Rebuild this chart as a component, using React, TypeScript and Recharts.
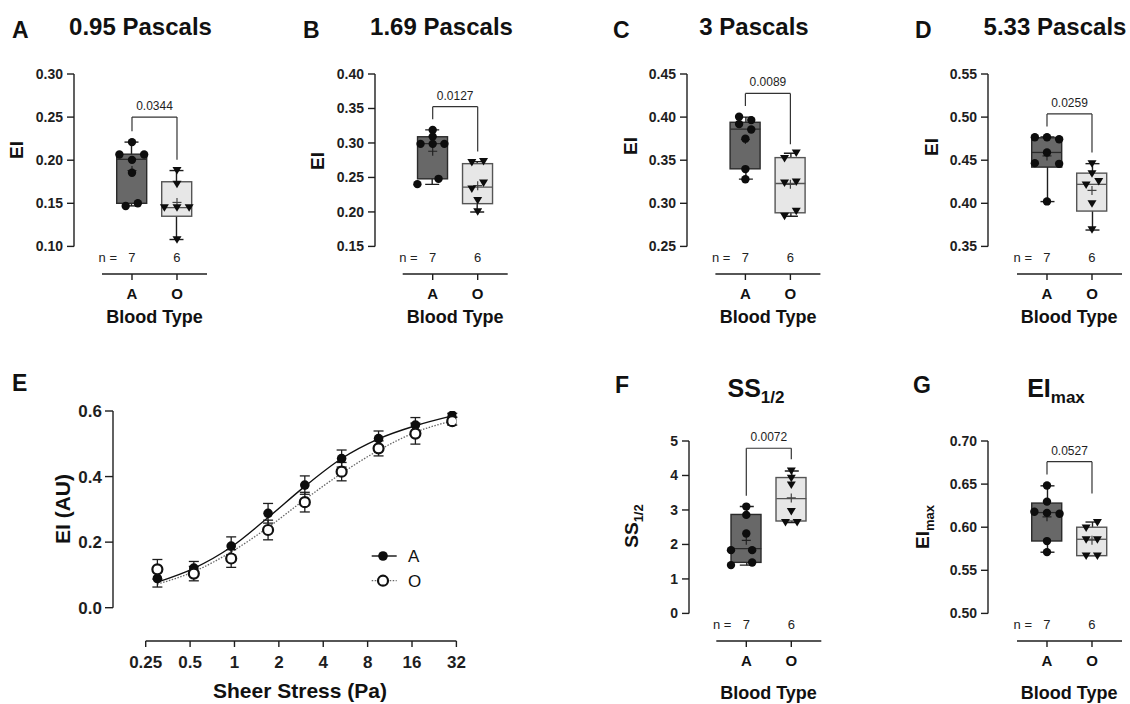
import React from "react";
import {
  ComposedChart,
  Bar,
  Scatter,
  Line,
  XAxis,
  YAxis,
  ReferenceLine,
  ErrorBar,
  Legend,
} from "recharts";

const FONT = '"Liberation Sans", Arial, Helvetica, sans-serif';
const INK = "#1e1e1e";

const groups = ["A", "O"];
const groupN = [7, 6];

// stats are [min, q1, median, q3, max, mean]

// A – 0.95 Pa
const aTicks = [0.1, 0.15, 0.2, 0.25, 0.3];
const aStatsA = [0.147, 0.15, 0.201, 0.207, 0.221, 0.188];
const aStatsO = [0.108, 0.135, 0.145, 0.175, 0.188, 0.151];
const aPtsA = [0.221, 0.2066, 0.2066, 0.2004, 0.1854, 0.1468, 0.15];
const aJitA = [1, 0.72, 1.27, 1, 1, 0.86, 1.13];
const aPtsO = [0.188, 0.1722, 0.1449, 0.1449, 0.1449, 0.1078];
const aJitO = [2, 2, 1.72, 2, 2.27, 2];
const aBracket = [0.25, 0.2336, 0.2005];

// B – 1.69 Pa
const bTicks = [0.15, 0.2, 0.25, 0.3, 0.35, 0.4];
const bStatsA = [0.24, 0.248, 0.299, 0.309, 0.319, 0.288];
const bStatsO = [0.2, 0.212, 0.236, 0.27, 0.273, 0.238];
const bPtsA = [0.3189, 0.3092, 0.2987, 0.2987, 0.2987, 0.248, 0.2403];
const bJitA = [1, 1, 0.73, 1, 1.26, 1.13, 0.66];
const bPtsO = [0.2716, 0.273, 0.2331, 0.2418, 0.2166, 0.2002];
const bJitO = [1.87, 2.13, 1.87, 2.13, 2, 2];
const bBracket = [0.3527, 0.3344, 0.2875];

// C – 3 Pa
const cTicks = [0.25, 0.3, 0.35, 0.4, 0.45];
const cStatsA = [0.328, 0.34, 0.386, 0.394, 0.4, 0.374];
const cStatsO = [0.285, 0.289, 0.323, 0.353, 0.358, 0.322];
const cPtsA = [0.4004, 0.3965, 0.3919, 0.3857, 0.375, 0.3397, 0.3279];
const cJitA = [0.86, 1.13, 0.86, 1.13, 1, 1, 1];
const cPtsO = [0.352, 0.3585, 0.3236, 0.3248, 0.2849, 0.2907];
const cJitO = [1.87, 2.13, 1.87, 2.13, 1.87, 2.13];
const cBracket = [0.4275, 0.4128, 0.3686];

// D – 5.33 Pa
const dTicks = [0.35, 0.4, 0.45, 0.5, 0.55];
const dStatsA = [0.402, 0.442, 0.459, 0.476, 0.477, 0.455];
const dStatsO = [0.369, 0.391, 0.422, 0.435, 0.446, 0.415];
const dPtsA = [0.4767, 0.4767, 0.4744, 0.4589, 0.4466, 0.4458, 0.4022];
const dJitA = [0.73, 1, 1.27, 1, 0.73, 1.27, 1];
const dPtsO = [0.4458, 0.4342, 0.4211, 0.4253, 0.3995, 0.3694];
const dJitO = [2, 2, 1.87, 2.15, 2, 2];
const dBracket = [0.5037, 0.489, 0.459];

// F – SS1/2
const fTicks = [0, 1, 2, 3, 4, 5];
const fStatsA = [1.4, 1.48, 1.88, 2.87, 3.1, 2.12];
const fStatsO = [2.635, 2.68, 3.33, 3.94, 4.13, 3.35];
const fPtsA = [3.098, 2.857, 2.316, 1.835, 1.835, 1.477, 1.401];
const fJitA = [1, 1, 1, 0.66, 1.13, 1.13, 0.66];
const fPtsO = [4.13, 3.92, 3.726, 2.953, 2.635, 2.635];
const fJitO = [2, 2, 2, 2, 1.87, 2.13];
const fBracket = [4.79, 3.41, 4.47];

// G – EImax
const gTicks = [0.5, 0.55, 0.6, 0.65, 0.7];
const gStatsA = [0.571, 0.584, 0.617, 0.628, 0.648, 0.612];
const gStatsO = [0.567, 0.567, 0.586, 0.6, 0.606, 0.585];
const gPtsA = [0.6484, 0.6297, 0.618, 0.6157, 0.6166, 0.5839, 0.5711];
const gJitA = [1, 1, 0.72, 1.28, 1, 1, 1];
const gPtsO = [0.599, 0.6056, 0.5854, 0.5854, 0.5667, 0.5667];
const gJitO = [1.87, 2.12, 1.87, 2.12, 1.87, 2.12];
const gBracket = [0.676, 0.6612, 0.639];

// E – deformability curve
const shear = [0.3, 0.53, 0.95, 1.69, 3, 5.33, 9.49, 16.87, 30];
const stressTicks = [0.25, 0.5, 1, 2, 4, 8, 16, 32];
const eiA = [0.089, 0.121, 0.188, 0.288, 0.374, 0.455, 0.516, 0.557, 0.587];
const semA = [0.026, 0.02, 0.028, 0.03, 0.028, 0.026, 0.023, 0.023, 0.006];
const eiO = [0.117, 0.104, 0.15, 0.237, 0.322, 0.415, 0.486, 0.531, 0.569];
const semO = [0.03, 0.022, 0.027, 0.03, 0.03, 0.028, 0.023, 0.032, 0.012];
const fitA = [0.078, 0.12, 0.185, 0.275, 0.37, 0.455, 0.515, 0.555, 0.585];
const fitO = [0.072, 0.11, 0.17, 0.245, 0.33, 0.41, 0.48, 0.535, 0.57];

const boxPanels = [
  { letter: "A", title: "0.95 Pascals", yLabel: "EI", ticks: aTicks, sA: aStatsA, sO: aStatsO, pA: aPtsA, jA: aJitA, pO: aPtsO, jO: aJitO, br: aBracket, p: "0.0344", dec: 2,
    axisX: 74, tickX: 132, top: 74, letterX: 12, letterY: 30, titleX: 140.5, titleY: 27, labX: 16, labY: 150, btY: 316.5 },
  { letter: "B", title: "1.69 Pascals", yLabel: "EI", ticks: bTicks, sA: bStatsA, sO: bStatsO, pA: bPtsA, jA: bJitA, pO: bPtsO, jO: bJitO, br: bBracket, p: "0.0127", dec: 2,
    axisX: 375, tickX: 432.7, top: 74, letterX: 303, letterY: 30, titleX: 441.5, titleY: 27, labX: 316.7, labY: 161, btY: 316.5 },
  { letter: "C", title: "3 Pascals", yLabel: "EI", ticks: cTicks, sA: cStatsA, sO: cStatsO, pA: cPtsA, jA: cJitA, pO: cPtsO, jO: cJitO, br: cBracket, p: "0.0089", dec: 2,
    axisX: 687.3, tickX: 745.7, top: 74, letterX: 613, letterY: 30, titleX: 754, titleY: 27, labX: 630, labY: 146, btY: 316.5 },
  { letter: "D", title: "5.33 Pascals", yLabel: "EI", ticks: dTicks, sA: dStatsA, sO: dStatsO, pA: dPtsA, jA: dJitA, pO: dPtsO, jO: dJitO, br: dBracket, p: "0.0259", dec: 2,
    axisX: 987.7, tickX: 1046.7, top: 74, letterX: 915, letterY: 30, titleX: 1055, titleY: 27, labX: 931, labY: 146.7, btY: 316.5 },
  { letter: "F", title: "SS", sub: "1/2", yLabel: "SS", ticks: fTicks, sA: fStatsA, sO: fStatsO, pA: fPtsA, jA: fJitA, pO: fPtsO, jO: fJitO, br: fBracket, p: "0.0072", dec: 0,
    axisX: 688.7, tickX: 746, top: 440.5, letterX: 615, letterY: 385, titleX: 756, titleY: 387.5, labX: 631, labY: 525.7, btY: 692.5 },
  { letter: "G", title: "EI", sub: "max", yLabel: "EI", ticks: gTicks, sA: gStatsA, sO: gStatsO, pA: gPtsA, jA: gJitA, pO: gPtsO, jO: gJitO, br: gBracket, p: "0.0527", dec: 2,
    axisX: 987.7, tickX: 1046.7, top: 440.5, letterX: 913, letterY: 385, titleX: 1056, titleY: 387.5, labX: 922, labY: 526.5, btY: 692.5 },
];

const UNIT = 45; // px between group centres
const X_HI = 2.667;
const YW = 60;
const MT = 10;
const PLOT_H = 200;
const XH = 36;
const BOX_FILL = ["#686868", "#e7e7e7"];
const BOX_STROKE = ["#2a2a2a", "#555555"];

const toRow = (x: number, s: number[]) => ({ x, min: s[0], q1: s[1], med: s[2], q3: s[3], max: s[4], mean: s[5] });

const spanY = (p: any) => {
  const a = p.y;
  const b = p.y + p.height;
  return [Math.min(a, b), Math.max(a, b)];
};

const Whisker = (p: any) => {
  const cx = p.x + p.width / 2;
  const [y1, y2] = spanY(p);
  return (
    <g stroke={INK} strokeWidth={1.4}>
      <line x1={cx} x2={cx} y1={y1} y2={y2} />
      <line x1={cx - 7} x2={cx + 7} y1={y1} y2={y1} />
      <line x1={cx - 7} x2={cx + 7} y1={y2} y2={y2} />
    </g>
  );
};

const BoxShape = (p: any) => {
  const cx = p.x + p.width / 2;
  const [y1, y2] = spanY(p);
  const i = p.index ?? 0;
  return <rect x={cx - 15} y={y1} width={30} height={y2 - y1} fill={BOX_FILL[i]} stroke={BOX_STROKE[i]} strokeWidth={1.4} />;
};

const MedianShape = (p: any) => (
  <line x1={p.cx - 15} x2={p.cx + 15} y1={p.cy} y2={p.cy} stroke={p.index === 0 ? "#2a2a2a" : "#555"} strokeWidth={1.3} />
);

const MeanShape = (p: any) => (
  <g stroke={p.index === 0 ? "#222" : "#444"} strokeWidth={1.2}>
    <line x1={p.cx - 4.5} x2={p.cx + 4.5} y1={p.cy} y2={p.cy} />
    <line x1={p.cx} x2={p.cx} y1={p.cy - 4.5} y2={p.cy + 4.5} />
  </g>
);

const DotShape = (p: any) => <circle cx={p.cx} cy={p.cy} r={4.2} fill="#0d0d0d" />;

const TriShape = (p: any) => (
  <path d={`M${p.cx - 4.5},${p.cy - 3.5} L${p.cx + 4.5},${p.cy - 3.5} L${p.cx},${p.cy + 4} Z`} fill="#0d0d0d" />
);

const GroupTick = (props: any) => {
  const { x, y, payload } = props;
  const i = Math.round(payload.value) - 1;
  const axisY = y - 14;
  return (
    <g fontFamily={FONT}>
      <text x={x} y={y} dy="0.71em" textAnchor="middle" fontSize={15} fontWeight={700} fill="#111">
        {groups[i]}
      </text>
      <text x={x} y={axisY - 11.5} textAnchor="middle" fontSize={13} fill="#222">
        {groupN[i]}
      </text>
      {i === 0 && (
        <text x={x - 15} y={axisY - 11.5} textAnchor="end" fontSize={13} fill="#222">
          n =
        </text>
      )}
    </g>
  );
};

function BoxPanel({ d }: { d: any }) {
  const yMin = d.ticks[0];
  const yMax = d.ticks[d.ticks.length - 1];
  const yLo = yMin - 0.16 * (yMax - yMin);
  const xLo = 1 - (d.tickX - d.axisX) / UNIT;
  const plotW = (X_HI - xLo) * UNIT;
  const width = YW + plotW + 8;
  const height = MT + PLOT_H + XH;
  const rows = [toRow(1, d.sA), toRow(2, d.sO)];
  const ptsA = d.pA.map((y: number, i: number) => ({ x: d.jA[i], y }));
  const ptsO = d.pO.map((y: number, i: number) => ({ x: d.jO[i], y }));
  const axisStroke = { stroke: INK, strokeWidth: 1.4 };
  const bracketStroke = "#333";
  return (
    <div style={{ position: "absolute", left: d.axisX - YW, top: d.top - MT }}>
      <ComposedChart width={width} height={height} data={rows} margin={{ top: MT, right: 8, bottom: 0, left: 0 }}>
        <XAxis
          xAxisId={0}
          type="number"
          dataKey="x"
          domain={[xLo, X_HI]}
          allowDataOverflow
          ticks={[1, 2]}
          interval={0}
          axisLine={false}
          tickLine={axisStroke}
          tickSize={6}
          tickMargin={8}
          height={XH}
          tick={<GroupTick />}
        />
        <XAxis xAxisId="w" type="number" dataKey="x" domain={[xLo, X_HI]} allowDataOverflow ticks={[1, 2]} hide />
        <YAxis
          type="number"
          domain={[yLo, yMax]}
          allowDataOverflow
          ticks={d.ticks}
          interval={0}
          width={YW}
          axisLine={false}
          tickLine={axisStroke}
          tickSize={7}
          tickMargin={4}
          tick={{ fontSize: 14, fontWeight: 700, fill: INK, fontFamily: FONT }}
          tickFormatter={(v: number) => v.toFixed(d.dec)}
        />
        <ReferenceLine segment={[{ x: xLo, y: yMin }, { x: xLo, y: yMax }]} ifOverflow="visible" {...axisStroke} />
        <ReferenceLine segment={[{ x: 1 / 3, y: yLo }, { x: X_HI, y: yLo }]} ifOverflow="visible" {...axisStroke} />

        <ReferenceLine
          segment={[{ x: 1, y: d.br[0] }, { x: 2, y: d.br[0] }]}
          ifOverflow="visible"
          stroke={bracketStroke}
          strokeWidth={1.2}
          label={{ value: d.p, position: "top", offset: 7, fontSize: 12, fill: INK, fontFamily: FONT }}
        />
        <ReferenceLine segment={[{ x: 1, y: d.br[1] }, { x: 1, y: d.br[0] }]} ifOverflow="visible" stroke={bracketStroke} strokeWidth={1.2} />
        <ReferenceLine segment={[{ x: 2, y: d.br[2] }, { x: 2, y: d.br[0] }]} ifOverflow="visible" stroke={bracketStroke} strokeWidth={1.2} />

        <Bar xAxisId="w" dataKey={(r: any) => [r.min, r.max]} barSize={14} shape={Whisker} isAnimationActive={false} />
        <Bar dataKey={(r: any) => [r.q1, r.q3]} barSize={30} shape={BoxShape} isAnimationActive={false} />
        <Scatter data={rows} dataKey="med" shape={MedianShape} isAnimationActive={false} />
        <Scatter data={rows} dataKey="mean" shape={MeanShape} isAnimationActive={false} />
        <Scatter data={ptsA} dataKey="y" shape={DotShape} isAnimationActive={false} />
        <Scatter data={ptsO} dataKey="y" shape={TriShape} isAnimationActive={false} />
      </ComposedChart>
    </div>
  );
}

// panel E geometry
const E_AXIS_X = 113.3;
const E_TOP = 411;
const E_RIGHT = 456.7;
const E_PLOT_H = 230;
const E_YW = 60;
const E_XH = 40;
const E_LEFT = E_AXIS_X - E_YW;
const E_Y_LO = -0.1016;

const FilledDot = (p: any) => <circle cx={p.cx} cy={p.cy} r={4.8} fill="#0d0d0d" />;
const OpenDot = (p: any) => <circle cx={p.cx} cy={p.cy} r={5} fill="#fff" stroke="#111" strokeWidth={2.2} />;

const legendSeries = ["A", "O"];

const StressLegend = () => (
  <svg width={70} height={50} style={{ overflow: "visible" }}>
    {legendSeries.map((name, i) => {
      const y = 12 + i * 24.7;
      return (
        <g key={name}>
          <line
            x1={5.7}
            x2={30.7}
            y1={y}
            y2={y}
            stroke={i === 0 ? "#111" : "#666"}
            strokeWidth={i === 0 ? 1.4 : 1.3}
            strokeDasharray={i === 0 ? undefined : "1.5 1.5"}
          />
          {i === 0 ? (
            <circle cx={17} cy={y} r={4.8} fill="#0d0d0d" />
          ) : (
            <circle cx={17} cy={y} r={5} fill="#fff" stroke="#111" strokeWidth={2.2} />
          )}
          <text x={42} y={y} dy="0.355em" fontSize={17} fill="#111" fontFamily={FONT}>
            {name}
          </text>
        </g>
      );
    })}
  </svg>
);

function StressPanel() {
  const ptsA = shear.map((x, i) => ({ x, y: eiA[i], err: semA[i] }));
  const ptsO = shear.map((x, i) => ({ x, y: eiO[i], err: semO[i] }));
  const curveA = shear.map((x, i) => ({ x, y: fitA[i] }));
  const curveO = shear.map((x, i) => ({ x, y: fitO[i] }));
  const width = E_YW + (E_RIGHT - E_AXIS_X) + 12;
  const height = MT + E_PLOT_H + E_XH;
  const axisStroke = { stroke: INK, strokeWidth: 1.4 };
  const tickFont = { fontSize: 17, fontWeight: 700, fill: INK, fontFamily: FONT };
  return (
    <div style={{ position: "absolute", left: E_LEFT, top: E_TOP - MT }}>
      <ComposedChart width={width} height={height} margin={{ top: MT, right: 12, bottom: 0, left: 0 }}>
        <XAxis
          type="number"
          dataKey="x"
          scale="log"
          domain={[0.15, 32]}
          allowDataOverflow
          ticks={stressTicks}
          interval={0}
          axisLine={false}
          tickLine={axisStroke}
          tickSize={6}
          tickMargin={9}
          height={E_XH}
          tick={tickFont}
          tickFormatter={(v: number) => String(v)}
        />
        <YAxis
          type="number"
          domain={[E_Y_LO, 0.6]}
          allowDataOverflow
          ticks={[0, 0.2, 0.4, 0.6]}
          interval={0}
          width={E_YW}
          axisLine={false}
          tickLine={axisStroke}
          tickSize={8}
          tickMargin={3}
          tick={tickFont}
          tickFormatter={(v: number) => v.toFixed(1)}
        />
        <ReferenceLine segment={[{ x: 0.15, y: 0 }, { x: 0.15, y: 0.6 }]} ifOverflow="visible" {...axisStroke} />
        <ReferenceLine segment={[{ x: 0.25, y: E_Y_LO }, { x: 32, y: E_Y_LO }]} ifOverflow="visible" {...axisStroke} />

        <Line data={curveO} dataKey="y" type="monotone" stroke="#666" strokeWidth={1.3} strokeDasharray="1.5 1.5" dot={false} isAnimationActive={false} />
        <Line data={curveA} dataKey="y" type="monotone" stroke="#111" strokeWidth={1.4} dot={false} isAnimationActive={false} />
        <Scatter data={ptsA} dataKey="y" shape={FilledDot} isAnimationActive={false}>
          <ErrorBar dataKey="err" direction="y" width={5} stroke={INK} strokeWidth={1.3} />
        </Scatter>
        <Scatter data={ptsO} dataKey="y" shape={OpenDot} isAnimationActive={false}>
          <ErrorBar dataKey="err" direction="y" width={5} stroke={INK} strokeWidth={1.3} />
        </Scatter>
        <Legend
          layout="vertical"
          align="center"
          verticalAlign="middle"
          content={() => <StressLegend />}
          wrapperStyle={{ left: 366 - E_LEFT, top: 544 - (E_TOP - MT), width: 70, height: 50 }}
        />
      </ComposedChart>
    </div>
  );
}

function Txt({ x, y, size, bold = true, align = "center", rotate = false, children }: any) {
  const tx = align === "left" ? "0" : "-50%";
  const style: React.CSSProperties = {
    position: "absolute",
    left: x,
    top: y,
    fontSize: size,
    fontWeight: bold ? 700 : 400,
    lineHeight: 1,
    whiteSpace: "nowrap",
    color: "#111",
    transform: rotate ? "translate(-50%, -50%) rotate(-90deg)" : `translate(${tx}, -49%)`,
  };
  return <div style={style}>{children}</div>;
}

const Sub = ({ size, drop, children }: any) => (
  <span style={{ fontSize: size, position: "relative", top: drop }}>{children}</span>
);

export default function App() {
  return (
    <div
      style={{
        position: "absolute",
        left: 0,
        top: 0,
        width: 1130,
        height: 704,
        background: "#fff",
        fontFamily: FONT,
        overflow: "hidden",
      }}
    >
      {boxPanels.map((d) => (
        <BoxPanel key={d.letter} d={d} />
      ))}
      <StressPanel />

      {boxPanels.map((d) => (
        <React.Fragment key={d.letter + "-txt"}>
          <Txt x={d.letterX} y={d.letterY} size={23} align="left">
            {d.letter}
          </Txt>
          <Txt x={d.titleX} y={d.titleY} size={d.sub ? 25 : 24}>
            {d.title}
            {d.sub && (
              <Sub size={17} drop={6}>
                {d.sub}
              </Sub>
            )}
          </Txt>
          <Txt x={d.labX} y={d.labY} size={19} rotate>
            {d.yLabel}
            {d.sub && (
              <Sub size={13} drop={5}>
                {d.sub}
              </Sub>
            )}
          </Txt>
          <Txt x={d.tickX + UNIT / 2} y={d.btY} size={18}>
            Blood Type
          </Txt>
        </React.Fragment>
      ))}

      <Txt x={12} y={383} size={23} align="left">
        E
      </Txt>
      <Txt x={62} y={509} size={21} rotate>
        EI (AU)
      </Txt>
      <Txt x={300} y={690} size={21}>
        Sheer Stress (Pa)
      </Txt>
    </div>
  );
}
